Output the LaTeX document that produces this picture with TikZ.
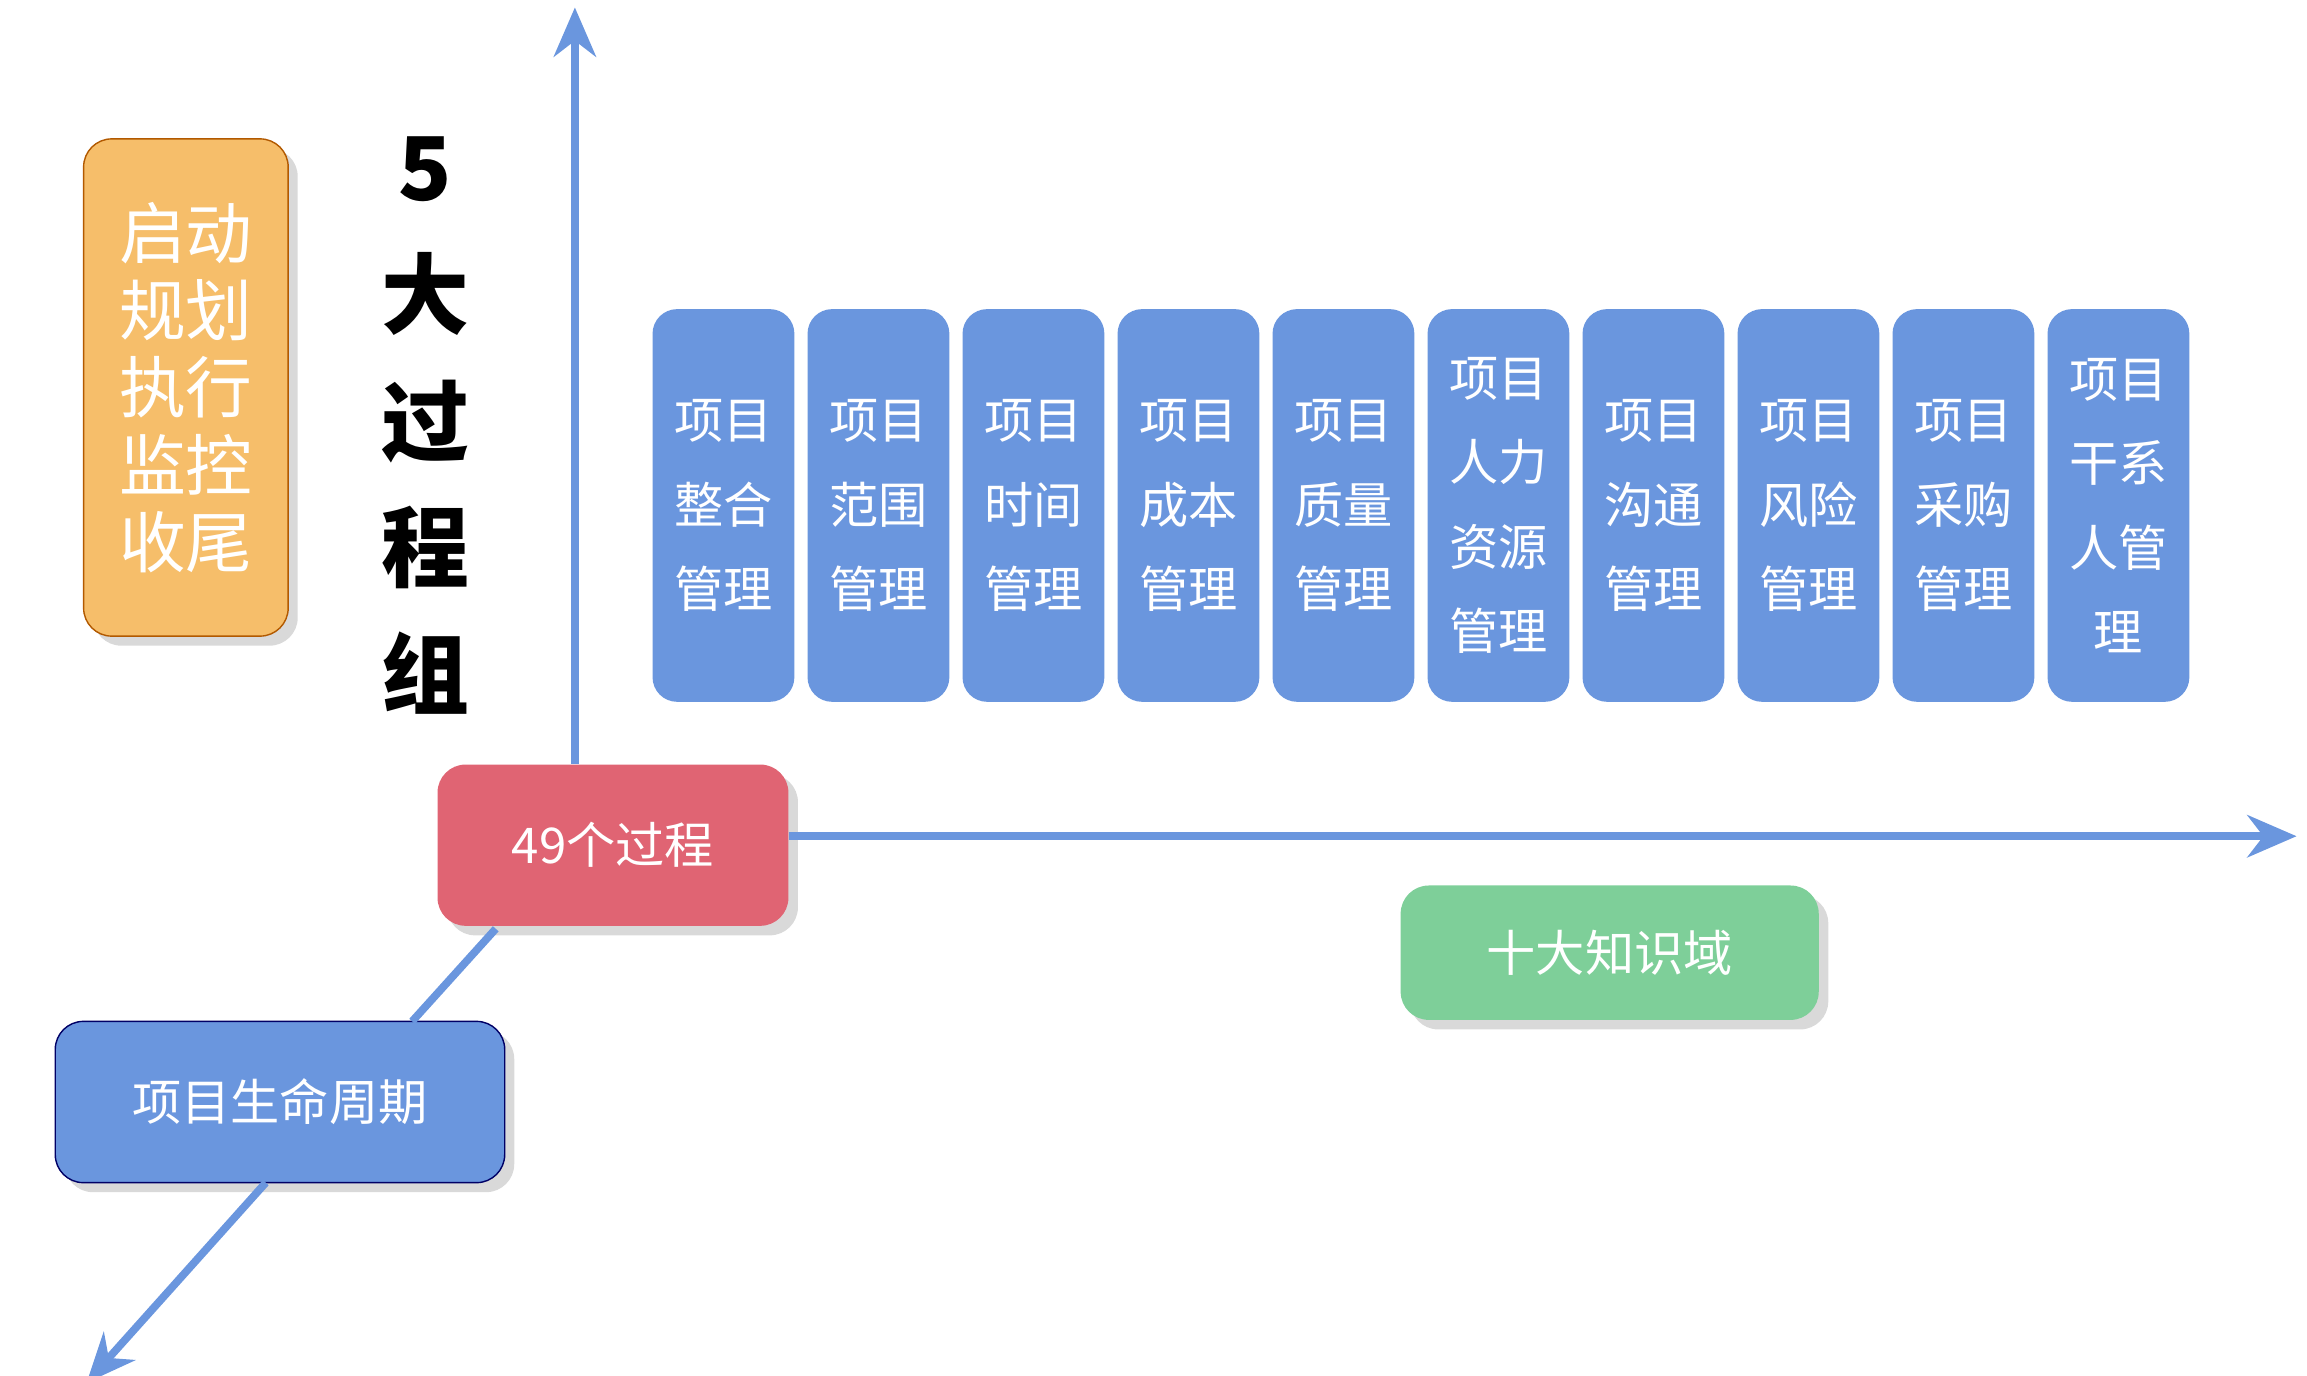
\documentclass[tikz,border=0pt]{standalone}
\usepackage{fontspec}
\setmainfont{Noto Sans CJK SC}
\usetikzlibrary{arrows.meta,calc,shadows}
\definecolor{axisblue}{HTML}{6A96DE}
\definecolor{boxblue}{HTML}{6A96DE}
\definecolor{boxorange}{HTML}{F6BE6A}
\definecolor{boxred}{HTML}{E06473}
\definecolor{boxgreen}{HTML}{7ECF99}
\tikzset{
  axis/.style={axisblue, line width=2.2pt, -{Stealth[length=14pt,width=12pt]}},
  area/.style={draw=none, fill=boxblue, rounded corners=7pt, text=white,
    minimum width=95\unit, minimum height=263\unit, align=center,
    font=\fontsize{14}{24}\selectfont},
  tag/.style={rounded corners=8pt, text=white, align=center,
    font=\fontsize{14}{18}\selectfont, drop shadow={opacity=0.3}}
}
\newlength{\unit}\setlength{\unit}{0.1493mm}
\begin{document}
\begin{tikzpicture}[x=0.1493mm, y=-0.1493mm]
    \useasboundingbox (0,0) rectangle (1545,921);

    \node[tag, fill=boxorange, draw=orange!70!black, drop shadow={opacity=0},
      minimum width=137\unit, minimum height=333\unit,
      font=\fontsize{19}{22}\selectfont] (stage) at (124.5,259.5) {启动\\规划\\执行\\监控\\收尾};
    \node[font=\fontsize{25}{36}\selectfont\bfseries, align=center] (groups) at (285,285) {5\\大\\过\\程\\组};

    \foreach \name [count=\i] in {项目\\整合\\管理, 项目\\范围\\管理, 项目\\时间\\管理, 项目\\成本\\管理, 项目\\质量\\管理,
      项目\\人力\\资源\\管理, 项目\\沟通\\管理, 项目\\风险\\管理, 项目\\采购\\管理, 项目\\干系\\人管\\理}
    {
    \node[area] (box\i) at ({484.5+103.8*(\i-1)},338.5) {\name};
    }

    \node[tag, fill=boxred, minimum width=235\unit, minimum height=108\unit] (process) at (410.5,566) {49个过程};
    \node[tag, fill=boxgreen, minimum width=280\unit, minimum height=90\unit] (domain) at (1078,638) {十大知识域};
    \node[tag, fill=boxblue, draw=blue!40!black, drop shadow={opacity=0},
      minimum width=301\unit, minimum height=108\unit] (life) at (187.5,738) {项目生命周期};

    \coordinate (top) at (385,5);
    \coordinate (right) at (1538,560);
    \coordinate (bottom) at (58,926);

    \draw[axis] (process.north -| top) -- (top);
    \draw[axis] (process.east |- right) -- (right);
    \draw[axisblue, line width=2.2pt] (332,622) -- (276,684);
    \draw[axis] (178,792) -- (bottom);
\end{tikzpicture}
\end{document}
